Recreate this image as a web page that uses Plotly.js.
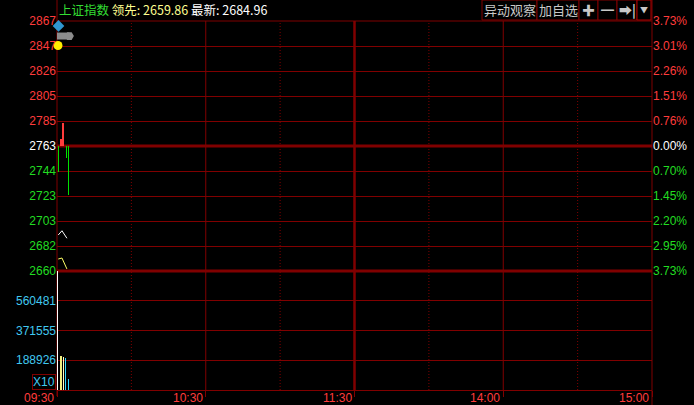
<!DOCTYPE html>
<html>
<head>
<meta charset="utf-8">
<script src="https://cdn.plot.ly/plotly-3.0.1.min.js"></script>
<style>html,body{margin:0;padding:0;background:#000;}#chart{width:694px;height:405px;}</style>
</head>
<body>
<div id="chart"></div>
<script>
// ---- data ----
const timeTicks = [0, 60, 120, 180, 240];
const timeLabels = ['09:30', '10:30', '11:30', '14:00', '15:00'];
const dottedTimes = [30, 90, 150, 210];
const solidTimes = [60, 180];
const breakTime = 120;

const priceMin = 2659.9;
const priceMax = 2866.1;
const prevClose = 2763;
const priceLabels = ['2660','2682','2703','2723','2744','2763','2785','2805','2826','2847','2867'];
const pctLabels = ['3.73%','2.95%','2.20%','1.45%','0.70%','0.00%','0.76%','1.51%','2.26%','3.01%','3.73%'];

const volMax = 747407;
const volLabels = ['188926','371555','560481'];
const volUnit = 'X10';

const priceMinute = [0.5, 2, 4];
const priceLine = [2689.6, 2693.1, 2686.9];
const avgLine = [2669.8, 2670.6, 2661.6];

const breadthMinute = [0.5, 1.6, 2.4, 4.0, 4.5];
const breadthValue = [2741.6, 2768.8, 2782.0, 2753.1, 2722.6];

const volMinute = [0.2, 1.6, 2.5, 3.5, 4.6];
const volume = [900000, 215000, 209000, 203000, 70000];
const volColors = ['#ffffff', '#f0f080', '#ffffc0', '#30d8ff', '#30d8ff'];

const eventMinute = [0.6, 0.4];
const eventPrice = [2862, 2845.9];
const eventColors = ['#2f96d0', '#ffee00'];
const eventSymbols = ['diamond', 'circle'];
const grayMinute = [-0.2, 5.0];
const grayPrice = [2853.7, 2853.7];

const headerName = '上证指数';
const headerLead = '领先: 2659.86';
const headerLast = '最新: 2684.96';
const buttons = ['异动观察', '加自选', '<b>✚</b>', '<b>━</b>', '<b>➡|</b>', '▼'];

// ---- colors ----
const RED = '#ff3c3c', GREEN = '#22dd22', WHITE = '#ffffff', CYAN = '#40c8f0', GRID = '#800000';

// ---- helpers ----
const L = 57, R = 42, T = 21, B = 15, W = 694, H = 405;
const PW = W - L - R, PH = H - T - B;
const px2x = p => (p - L) / PW;
const px2y = p => (H - B - p) / PH;
const splitY = px2y(271);

const n = priceLabels.length;
const priceTickVals = priceLabels.map((_, i) => priceMin + i * (priceMax - priceMin) / (n - 1));
const mid = Math.floor(n / 2);
const colorFor = i => i > mid ? RED : (i === mid ? WHITE : GREEN);
const priceTickText = priceLabels.map((t, i) => `<span style="color:${colorFor(i)}">${t}</span>`);
const pctTickText = pctLabels.map((t, i) => `<span style="color:${colorFor(i)}">${t}</span>`);
const volTickVals = volLabels.map((_, i) => volMax * (i + 1) / 4);

const traces = [
  {
    type: 'bar', x: breadthMinute,
    base: breadthValue.map(() => prevClose),
    y: breadthValue.map(v => v - prevClose),
    width: 0.45, marker: { color: breadthValue.map(v => v >= prevClose ? RED : '#00e000'), line: { width: 0 } },
    xaxis: 'x', yaxis: 'y', hoverinfo: 'skip'
  },
  {
    type: 'scatter', mode: 'lines', x: priceMinute, y: priceLine,
    line: { color: '#ffffff', width: 1 }, xaxis: 'x', yaxis: 'y', hoverinfo: 'skip'
  },
  {
    type: 'scatter', mode: 'lines', x: priceMinute, y: avgLine,
    line: { color: '#ffff66', width: 1 }, xaxis: 'x', yaxis: 'y', hoverinfo: 'skip'
  },
  {
    type: 'scatter', mode: 'lines+markers', x: grayMinute, y: grayPrice,
    line: { color: '#8c8c8c', width: 7 }, marker: { symbol: 'hexagon2', size: 9, color: '#8c8c8c' },
    cliponaxis: false, xaxis: 'x', yaxis: 'y', hoverinfo: 'skip'
  },
  {
    type: 'scatter', mode: 'markers', x: eventMinute, y: eventPrice,
    marker: { symbol: eventSymbols, size: 9, color: eventColors },
    cliponaxis: false, xaxis: 'x', yaxis: 'y', hoverinfo: 'skip'
  },
  {
    type: 'scatter', mode: 'markers', x: [0], y: [prevClose], marker: { opacity: 0 },
    xaxis: 'x', yaxis: 'y2', hoverinfo: 'skip'
  },
  {
    type: 'bar', x: volMinute, y: volume, width: 0.45,
    marker: { color: volColors, line: { width: 0 } }, xaxis: 'x', yaxis: 'y3', hoverinfo: 'skip'
  }
];

const shapes = [];
const line = (x0, y0, x1, y1, xref, yref, color, width, dash) =>
  shapes.push({ type: 'line', x0, y0, x1, y1, xref, yref, line: { color, width, dash: dash || 'solid' }, layer: 'below' });

dottedTimes.forEach(t => line(t, 0, t, 1, 'x', 'paper', GRID, 1, '1px,2px'));
solidTimes.forEach(t => line(t, 0, t, 1, 'x', 'paper', GRID, 1));
line(breakTime, 0, breakTime, 1, 'x', 'paper', GRID, 2.5);
line(0, prevClose, 1, prevClose, 'paper', 'y', GRID, 3);
line(0, splitY, 1, splitY, 'paper', 'paper', GRID, 3);
line(0, 1, 1, 1, 'paper', 'paper', GRID, 1);
line(0, px2y(396), 0, px2y(0), 'paper', 'paper', GRID, 1);
line(1, px2y(405), 1, px2y(0), 'paper', 'paper', GRID, 1);

// header buttons
const btnEdges = [482, 537, 579, 598, 617, 637, 651];
const annotations = [];
buttons.forEach((b, i) => {
  const last = i === buttons.length - 1;
  shapes.push({ type: 'rect', xref: 'paper', yref: 'paper',
    x0: px2x(btnEdges[i]), x1: px2x(btnEdges[i + 1]), y0: px2y(20), y1: px2y(0),
    line: { color: last ? '#b00000' : GRID, width: 1 }, fillcolor: '#000' });
  annotations.push({ xref: 'paper', yref: 'paper', x: px2x((btnEdges[i] + btnEdges[i + 1]) / 2), y: px2y(10),
    text: b, showarrow: false, xanchor: 'center', yanchor: 'middle',
    font: { family: 'Noto Sans CJK SC, DejaVu Sans', size: last ? 8 : (i >= 2 ? 13 : 13), color: '#c8c8c8' } });
});

annotations.push({
  xref: 'paper', yref: 'paper', x: px2x(57), y: px2y(10), xanchor: 'left', yanchor: 'middle', showarrow: false,
  text: `<span style="color:#33dd33">${headerName}</span> <span style="color:#ffff90">${headerLead}</span> <span style="color:#ffffff">${headerLast}</span>`,
  font: { family: 'Noto Sans CJK SC', size: 12.5 }
});
annotations.push({
  xref: 'paper', yref: 'paper', x: px2x(56), y: 0, xanchor: 'right', yanchor: 'bottom', showarrow: false,
  text: volUnit, font: { family: 'Liberation Sans', size: 12, color: CYAN },
  bordercolor: GRID, borderwidth: 1, borderpad: 0
});
timeTicks.forEach((t, i) => annotations.push({
  xref: 'x', yref: 'paper', x: t, y: px2y(398), xanchor: 'right', yanchor: 'middle', showarrow: false,
  xshift: -1, text: timeLabels[i], font: { family: 'Liberation Sans', size: 12, color: RED }
}));

const layout = {
  width: W, height: H,
  paper_bgcolor: '#000', plot_bgcolor: '#000',
  margin: { l: L, r: R, t: T, b: B, pad: 0 },
  showlegend: false, barmode: 'overlay', bargap: 0,
  font: { family: 'Liberation Sans, Arial, sans-serif', size: 12, color: '#cccccc' },
  xaxis: {
    domain: [0, 1], range: [0, 240], anchor: 'y3',
    tickvals: timeTicks, ticks: 'outside', ticklen: 6, tickwidth: 1, tickcolor: GRID,
    showticklabels: false,
    showgrid: false, zeroline: false, showline: true, linecolor: GRID, linewidth: 1, fixedrange: true
  },
  yaxis: {
    domain: [splitY, 1], range: [priceMin, priceMax], anchor: 'x', side: 'left',
    tickvals: priceTickVals, ticktext: priceTickText, ticks: '',
    showgrid: true, gridcolor: GRID, gridwidth: 1, zeroline: false, showline: false, fixedrange: true
  },
  yaxis2: {
    overlaying: 'y', side: 'right', range: [priceMin, priceMax], anchor: 'x',
    tickvals: priceTickVals, ticktext: pctTickText, ticks: '',
    showgrid: false, zeroline: false, showline: false, fixedrange: true
  },
  yaxis3: {
    domain: [0, splitY], range: [0, volMax], anchor: 'x', side: 'left',
    tickvals: volTickVals, ticktext: volLabels, tickfont: { color: CYAN }, ticks: '',
    showgrid: true, gridcolor: GRID, gridwidth: 1, zeroline: false, showline: false, fixedrange: true
  },
  shapes, annotations
};

Plotly.newPlot('chart', traces, layout, { staticPlot: true, displayModeBar: false });
</script>
</body>
</html>
